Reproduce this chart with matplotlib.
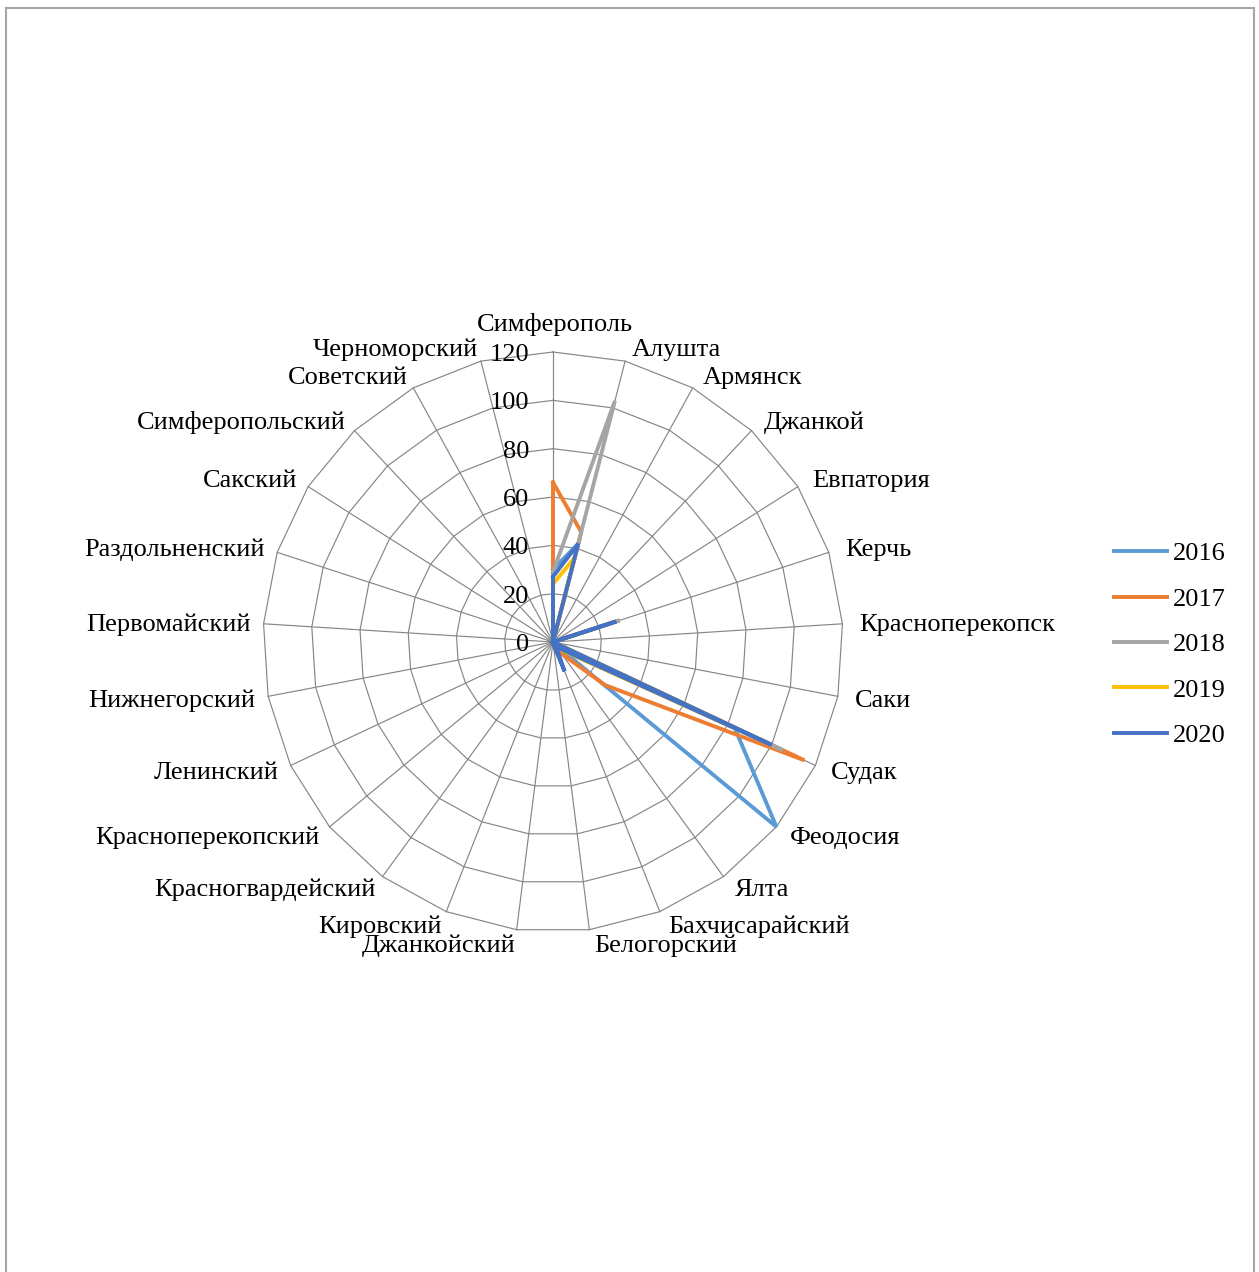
import numpy as np
import matplotlib
matplotlib.use('Agg')
import matplotlib.pyplot as plt
from matplotlib.lines import Line2D

plt.rcParams['font.family'] = ['Liberation Serif', 'DejaVu Serif']

categories = ['Симферополь', 'Алушта', 'Армянск', 'Джанкой', 'Евпатория', 'Керчь',
              'Красноперекопск', 'Саки', 'Судак', 'Феодосия', 'Ялта', 'Бахчисарайский',
              'Белогорский', 'Джанкойский', 'Кировский', 'Красногвардейский',
              'Красноперекопский', 'Ленинский', 'Нижнегорский', 'Первомайский',
              'Раздольненский', 'Сакский', 'Симферопольский', 'Советский', 'Черноморский']

years = ['2016', '2017', '2018', '2019', '2020']
v2016 = [30, 42, 0, 0, 0, 26, 0, 0, 83, 120, 1, 1, 0, 0, 0, 0, 0, 0, 0, 0, 0, 0, 0, 0, 0]
v2017 = [66, 47, 0, 0, 0, 26, 0, 0, 115, 28, 6, 2, 0, 0, 0, 0, 0, 0, 0, 0, 0, 0, 0, 0, 0]
v2018 = [29, 103, 0, 0, 0, 29, 0, 0, 105, 5, 2, 2, 0, 0, 0, 0, 0, 0, 0, 0, 0, 0, 0, 0, 0]
v2019 = [24, 36, 0, 0, 0, 27, 0, 0, 99, 6, 2, 3, 0, 0, 0, 0, 0, 0, 0, 0, 0, 0, 0, 0, 0]
v2020 = [27, 42, 0, 0, 0, 27.5, 0, 0, 100, 5, 2, 13, 1, 0, 0, 0, 0, 0, 0, 0, 0, 0, 0, 0, 0]
series = [v2016, v2017, v2018, v2019, v2020]
colors = ['#5B9BD5', '#ED7D31', '#A5A5A5', '#FFC000', '#4472C4']

r_ticks = [0, 20, 40, 60, 80, 100, 120]

W, H = 1259, 1272
fig = plt.figure(figsize=(W / 100, H / 100), dpi=100)
cx, cy, R = 553, 642, 290
ax = fig.add_axes([(cx - R) / W, (H - cy - R) / H, 2 * R / W, 2 * R / H], projection='polar')
ax.set_theta_zero_location('N')
ax.set_theta_direction(-1)
ax.set_ylim(0, 120)
ax.grid(False)
ax.set_xticks([])
ax.set_yticks([])
ax.spines['polar'].set_visible(False)
ax.patch.set_alpha(0)

n = len(categories)
theta = np.arange(n) * 2 * np.pi / n
closed = np.append(theta, theta[0])

# polygon grid like excel
gcol = '#868686'
for r in r_ticks[1:]:
    ax.plot(closed, [r] * (n + 1), color=gcol, lw=0.85, zorder=1, clip_on=False)
for t in theta:
    ax.plot([t, t], [0, 120], color=gcol, lw=0.85, zorder=1, clip_on=False)

for vals, col, yr in zip(series, colors, years):
    ax.plot(closed, vals + [vals[0]], color=col, lw=2.8, label=yr, zorder=3,
            clip_on=False, solid_joinstyle='miter')

# tick labels left of the vertical axis
for r in r_ticks:
    ax.annotate(str(r), xy=(0, r), xytext=(-24, -3), textcoords='offset pixels',
                ha='right', va='center', fontsize=19, zorder=4)

# category labels
for t, lbl in zip(theta, categories):
    s, c = np.sin(t), np.cos(t)
    if abs(s) < 0.01:
        ha, dx, dy = 'center', 2, 27
    elif s > 0:
        ha = 'left'
        dx = 3 + 14 * s
        dy = 14 * c - 2
    else:
        ha = 'right'
        dx = 1 + 14 * s
        dy = 14 * c - 2
    ax.annotate(lbl, xy=(t, 120), xytext=(dx, dy), textcoords='offset pixels',
                ha=ha, va='center', fontsize=19, zorder=4)

fig.legend(loc='upper left', bbox_to_anchor=(1114 / W, 1 - 542 / H), frameon=False,
           fontsize=19, handlelength=2.0, handletextpad=0.25, labelspacing=0.83,
           borderpad=0, borderaxespad=0)

# outer frame
bc = '#a6a6a6'
fig.add_artist(Line2D([6 / W, 6 / W], [0, 1 - 8 / H], transform=fig.transFigure, color=bc, lw=1.5))
fig.add_artist(Line2D([6 / W, 1254 / W], [1 - 8 / H, 1 - 8 / H], transform=fig.transFigure, color=bc, lw=1.5))
fig.add_artist(Line2D([1254 / W, 1254 / W], [0, 1 - 8 / H], transform=fig.transFigure, color=bc, lw=1.5))

fig.savefig('out.png', dpi=100)
